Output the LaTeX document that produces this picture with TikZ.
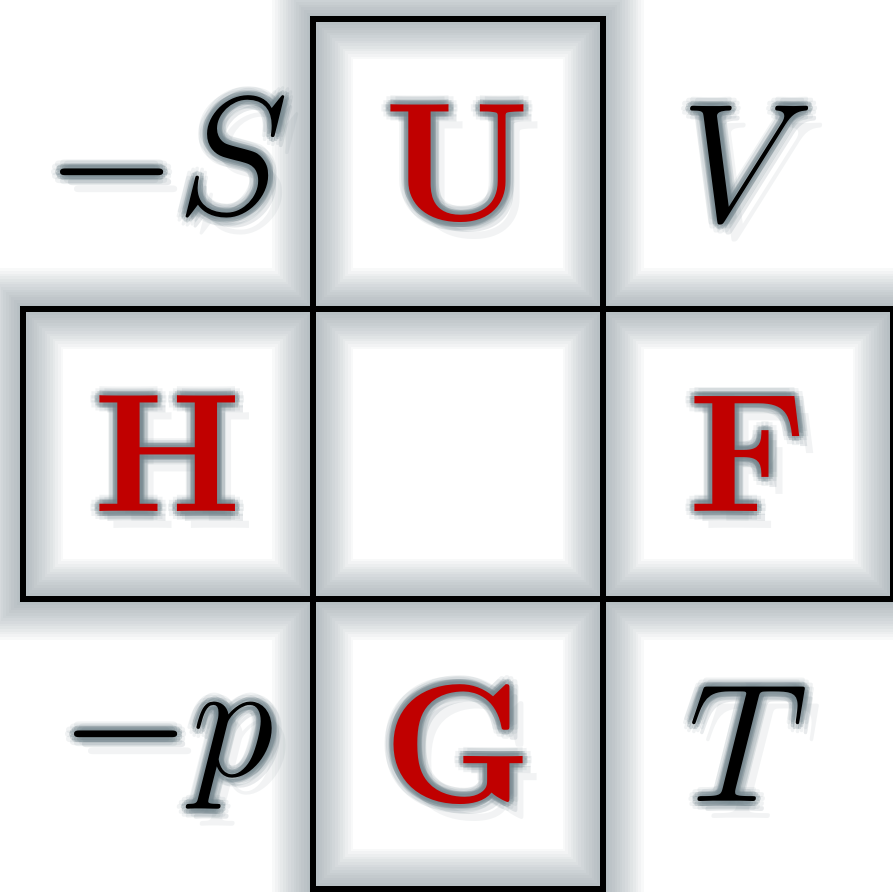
\documentclass[tikz,border=0pt]{standalone}
\usepackage{fix-cm}
\usepackage{xcolor}
\usetikzlibrary{positioning}
\definecolor{potRed}{RGB}{192,0,0}
\definecolor{haloGray}{RGB}{112,130,138}
\tikzset{
  labeltext/.style={font=\fontsize{48}{54}\selectfont,inner sep=0pt,outer sep=0pt},
  cellbox/.style={minimum size=2.9cm,inner sep=0pt,outer sep=0pt},
  cellline/.style={draw=black,line width=1.7pt}
}
\newcommand{\HaloLabel}[4]{%
  \foreach \ha in {0,30,...,330}{%
    \node[labeltext,text=haloGray,opacity=0.10] at ([shift={(\ha:9)}]#2) {#3};
    \node[labeltext,text=haloGray,opacity=0.26] at ([shift={(\ha:5)}]#2) {#3};}
  \node[labeltext,text=haloGray,opacity=0.16] at ([shift={(8,10)}]#2) {#3};
  \node[labeltext,text=haloGray,opacity=0.09] at ([shift={(14,17)}]#2) {#3};
  \node[labeltext,text=#4] (#1) at (#2) {#3};}

\begin{document}
\begin{tikzpicture}[x=0.01cm,y=-0.01cm]
\useasboundingbox (0,0) rectangle (893,892);
\fill[white] (0,0) rectangle (893,892);
\node[cellbox] (cM) at (458,454) {};
\node[cellbox,above=0pt of cM] (cU) {};
\node[cellbox,below=0pt of cM] (cG) {};
\node[cellbox,left=0pt of cM] (cH) {};
\node[cellbox,right=0pt of cM] (cF) {};
\foreach \w in {2,3.5,...,24}
  \draw[haloGray,line width=\w pt,opacity=0.045]
    (cM.north west) rectangle (cM.south east) (cU.north west) rectangle (cU.south east)
    (cG.north west) rectangle (cG.south east) (cH.north west) rectangle (cH.south east)
    (cF.north west) rectangle (cF.south east);
\foreach \c in {cM,cU,cG,cH,cF}
  \draw[cellline] (\c.north west) rectangle (\c.south east);
\coordinate (pS) at (cU -| cH);
\coordinate (pV) at (cU -| cF);
\coordinate (pP) at (cG -| cH);
\coordinate (pT) at (cG -| cF);
\HaloLabel{lU}{cU}{\textbf{U}}{potRed}
\HaloLabel{lH}{cH}{\textbf{H}}{potRed}
\HaloLabel{lF}{cF}{\textbf{F}}{potRed}
\HaloLabel{lG}{cG}{\textbf{G}}{potRed}
\HaloLabel{lS}{pS}{$-S$}{black}
\HaloLabel{lV}{pV}{$V$}{black}
\HaloLabel{lP}{pP}{$-p$}{black}
\HaloLabel{lT}{pT}{$T$}{black}
\end{tikzpicture}
\end{document}
